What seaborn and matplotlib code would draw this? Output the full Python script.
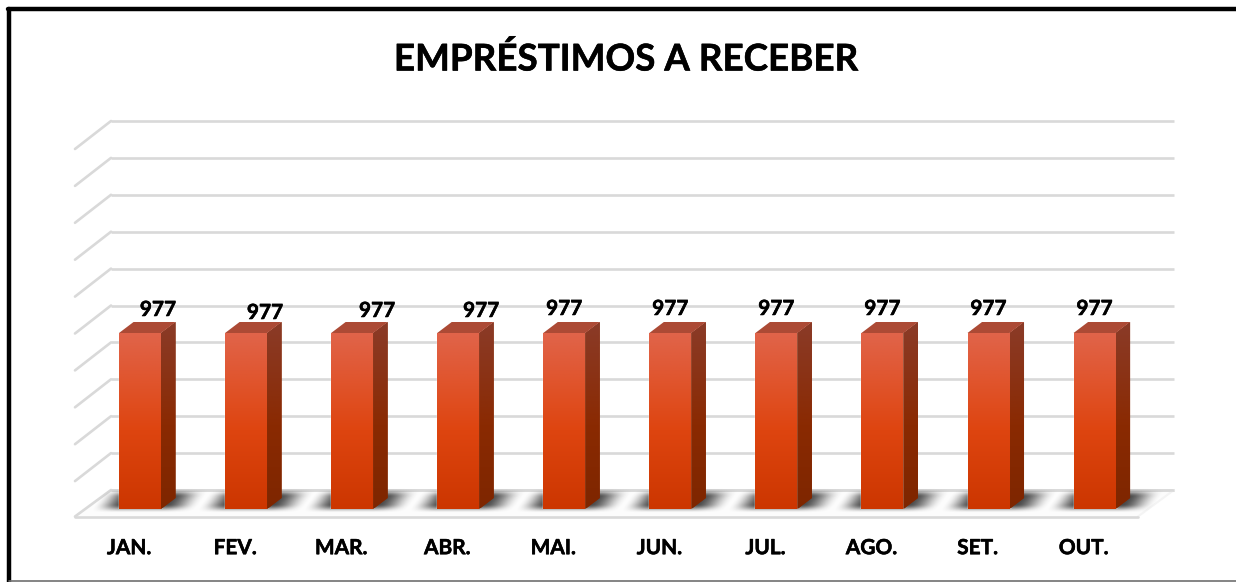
import numpy as np
import matplotlib
matplotlib.use("Agg")
import matplotlib.pyplot as plt
import matplotlib.patheffects as pe
from matplotlib.lines import Line2D
from matplotlib.patches import Polygon
from matplotlib.transforms import ScaledTranslation
import seaborn as sns

meses = ["JAN.", "FEV.", "MAR.", "ABR.", "MAI.", "JUN.", "JUL.", "AGO.", "SET.", "OUT."]
valores = [977, 977, 977, 977, 977, 977, 977, 977, 977, 977]
escala = [0, 200, 400, 600, 800, 1000, 1200, 1400, 1600, 1800, 2000]
titulo = "EMPRÉSTIMOS A RECEBER"

# deslocamento dos rotulos em relacao a cada barra (px)
rotulo_dx = [18, 19, 25, 23, 0, 0, 0, 0, 0, 0]
rotulo_dy = [23, 20, 22, 22, 24, 24, 24, 24, 24, 24]

W, H = 1236, 582
COR_GRADE = "#D9D9D9"

sns.set_theme(style="white")
plt.rcParams["font.family"] = ["Lato", "DejaVu Sans"]

fig = plt.figure(figsize=(W / 100, H / 100), dpi=100, facecolor="white")


def caixa(x0, y_topo, x1, y_base):
    return [x0 / W, 1 - y_base / H, (x1 - x0) / W, (y_base - y_topo) / H]


# 1. Parede do fundo com a grade
ax_fundo = fig.add_axes(caixa(111, 121, 1174, 490), zorder=1)
ax_fundo.set_xlim(0, 1)
ax_fundo.set_ylim(0, 2000)
ax_fundo.axis("off")
trans = ax_fundo.get_yaxis_transform()
prof_x = 36 / 1063
prof_y = 28 / 369 * 2000
ax_fundo.hlines(escala, 0, 1, transform=trans, colors=COR_GRADE, lw=1.9, clip_on=False)
for v in escala[1:]:
    ax_fundo.plot([0, -prof_x], [v, v - prof_y], transform=trans, color=COR_GRADE,
                  lw=1.9, clip_on=False, solid_capstyle="round")
# piso
piso_y = -26.5 / 369 * 2000
ax_fundo.add_patch(Polygon([(0, 0), (1, 0), (1 - prof_x, piso_y), (-prof_x, piso_y)],
                           closed=True, transform=trans, facecolor="#FCFCFC",
                           edgecolor="none", clip_on=False))
ax_fundo.plot([0, -prof_x], [0, piso_y], transform=trans, color=COR_GRADE, lw=1.9, clip_on=False)
ax_fundo.plot([1, 1 - prof_x], [0, piso_y], transform=trans, color="#F4F4F4", lw=1.5, clip_on=False)
ax_fundo.plot([-prof_x, 1 - prof_x], [piso_y, piso_y], transform=trans, color=COR_GRADE,
              lw=1.9, clip_on=False)
ax_fundo.hlines([0], 0, 1, transform=trans, colors=COR_GRADE, lw=1.9, clip_on=False)

# 2. Barras
px_x = 106.06           # px por categoria
px_y = 176 / 977        # px por unidade de valor
ax = fig.add_axes(caixa(87, 509 - 2000 * px_y, 87 + 10 * px_x, 509), zorder=2)
ax.patch.set_alpha(0)
sns.barplot(x=meses, y=valores, color="#DF4510", saturation=1, width=42 / px_x, ax=ax, zorder=4)
ax.set_xlim(-0.5, 9.5)
ax.set_ylim(0, 2000)
sns.despine(ax=ax, left=True, bottom=True)
ax.set_yticks([])
ax.set_ylabel("")
ax.set_xlabel("")

dx = 14.5 / px_x
dy = 11 / px_y

frente = matplotlib.colors.LinearSegmentedColormap.from_list(
    "frente", [(0, "#CC3600"), (0.45, "#DE4510"), (0.7, "#E0532A"), (1, "#E0644A")])
lado = matplotlib.colors.LinearSegmentedColormap.from_list(
    "lado", [(0, "#7E2600"), (0.45, "#8A2A02"), (0.7, "#8A3214"), (1, "#8B3B28")])
grad = np.linspace(1, 0, 256).reshape(-1, 1)

# sombra borrada no piso
gx, gy = np.meshgrid(np.linspace(0, 1, 240), np.linspace(0, 1, 60))
u = gx - 0.145 * (1 - gy)
suave = lambda t: np.clip(t, 0, 1) ** 2 * (3 - 2 * np.clip(t, 0, 1))
alfa = suave(u / 0.24) * suave((0.855 - u) / 0.28) * suave(gy / 0.35) * suave((1 - gy) / 0.35) * 0.85
sombra = np.zeros((60, 240, 4))
sombra[..., :3] = 0.15
sombra[..., 3] = alfa

for barra, v in zip(ax.patches, valores):
    x0 = barra.get_x()
    x1 = x0 + barra.get_width()
    c = x0 + barra.get_width() / 2
    sx0, sx1 = c - 52 / px_x, c + 72 / px_x
    ax.imshow(sombra, extent=(sx0, sx1, -4 / px_y, 21 / px_y), aspect="auto", zorder=2,
              interpolation="bilinear", clip_on=False)
    im = ax.imshow(grad, extent=(x0, x1, 0, v), aspect="auto", cmap=frente, zorder=5)
    im.set_clip_path(barra)
    # face lateral e topo
    pts = [(x1, 0), (x1 + dx, dy), (x1 + dx, v + dy), (x1, v)]
    face = Polygon(pts, closed=True, facecolor="#8A2A02", edgecolor="none", zorder=4)
    ax.add_patch(face)
    im2 = ax.imshow(grad, extent=(x1, x1 + dx, 0, v + dy), aspect="auto", cmap=lado, zorder=5)
    im2.set_clip_path(face)
    ax.add_patch(Polygon([(x0, v), (x1, v), (x1 + dx, v + dy), (x0 + dx, v + dy)], closed=True,
                         facecolor="#AC4A35", edgecolor="none", zorder=5))

ax.set_xlim(-0.5, 9.5)
ax.set_ylim(0, 2000)

# contorno fino para engrossar a fonte
grosso = [pe.withStroke(linewidth=0.4, foreground="black")]

# 3. Rotulos
for i, v in enumerate(valores):
    ax.annotate(str(v), (i, v), xytext=(rotulo_dx[i] * 0.72, rotulo_dy[i] * 0.72),
                textcoords="offset points", ha="center", va="center",
                fontsize=15, fontweight="bold", color="black", zorder=7, path_effects=grosso)

ax.set_xticks(range(len(meses)))
ax.set_xticklabels(meses, fontsize=15, fontweight="bold", color="black", path_effects=grosso)
ax.tick_params(axis="x", length=0, pad=21)
desloc = ScaledTranslation(-11 / 100, 0, fig.dpi_scale_trans)
for t in ax.get_xticklabels():
    t.set_transform(t.get_transform() + desloc)

fig.text(626 / W, 1 - 59.5 / H, titulo, ha="center", va="center", fontsize=26.5,
         fontweight="bold", color="black", path_effects=grosso)

# 4. Moldura da imagem
fig.add_artist(Line2D([9 / W, 9 / W], [0, 1 - 9 / H], color="black", lw=3.2))
fig.add_artist(Line2D([7.5 / W, 1], [1 - 9 / H, 1 - 9 / H], color="black", lw=3.2))
fig.add_artist(Line2D([9 / W, 1], [1 - 581 / H, 1 - 581 / H], color="#707070", lw=1.2))

plt.savefig("out.png", dpi=100)
